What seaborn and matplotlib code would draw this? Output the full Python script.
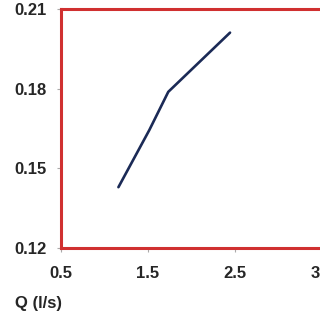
import matplotlib
matplotlib.use("Agg")
import matplotlib.pyplot as plt
import seaborn as sns
import pandas as pd

q_values = [1.16, 1.515, 1.733, 2.443]
y_values = [0.1429, 0.1644, 0.1788, 0.2011]
x_ticks = [0.5, 1.5, 2.5, 3.5]
y_ticks = [0.12, 0.15, 0.18, 0.21]

sns.set_style("white")
plt.rcParams['font.family'] = ['Liberation Sans', 'DejaVu Sans']

df = pd.DataFrame({"Q": q_values, "y": y_values})

fig = plt.figure(figsize=(3.2, 3.2), dpi=100)
ax = fig.add_axes([61/320, 72/320, 261/320, 239/320])
sns.lineplot(data=df, x="Q", y="y", ax=ax, color="#1b2a56", linewidth=1.9)

ax.set_xlim(0.5, 3.5)
ax.set_ylim(0.12, 0.21)
ax.set_xticks(x_ticks)
ax.set_yticks(y_ticks)
ax.set_xticklabels([f"{v:g}" for v in x_ticks], fontweight="bold", fontsize=12)
ax.set_yticklabels([f"{v:.2f}" for v in y_ticks], fontweight="bold", fontsize=12)
ax.tick_params(axis="both", which="both", direction="out", length=3, width=0.8,
               color="#aaaaaa", bottom=True, left=True)
ax.tick_params(axis="x", pad=10)
ax.tick_params(axis="y", pad=7)

for s in ax.spines.values():
    s.set_color("#d03030")
    s.set_linewidth(2.2)

ax.set_xlabel("Q (l/s)", fontweight="bold", fontsize=12)
ax.xaxis.set_label_coords(-0.088, -0.2)
ax.set_ylabel("h (m)", fontweight="bold", fontsize=12, color="#cccccc")
ax.yaxis.set_label_coords(-0.255, 0.5)

fig.savefig("out.png", dpi=100)
